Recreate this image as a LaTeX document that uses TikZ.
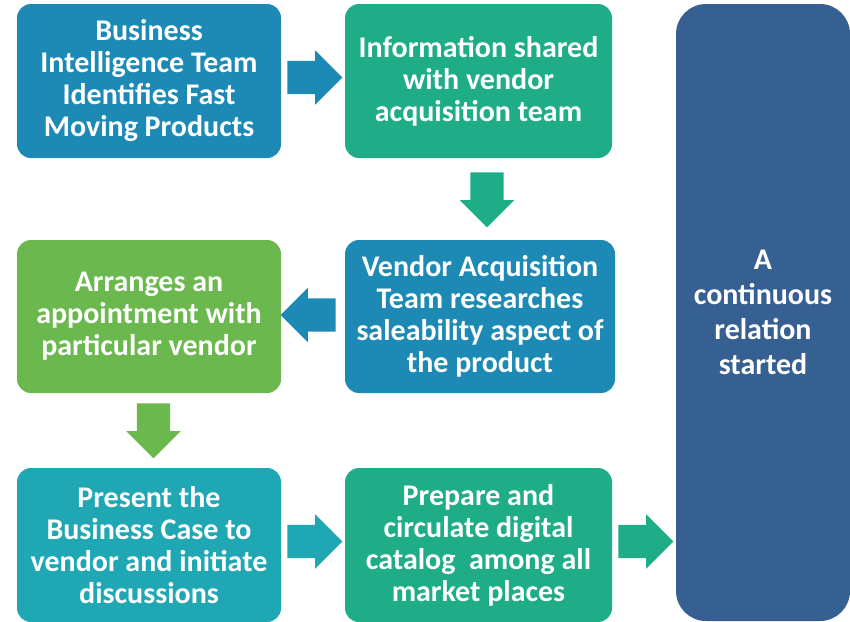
\documentclass[tikz,border=0pt]{standalone}
\usepackage{fontspec}
\setmainfont{Carlito}
\usetikzlibrary{shapes.arrows,calc}
\definecolor{cblue}{HTML}{1C8AB4}
\definecolor{cgreen}{HTML}{1FAD88}
\definecolor{clgreen}{HTML}{6BB84F}
\definecolor{cteal}{HTML}{1FA8B4}
\definecolor{cnavy}{HTML}{376092}
\begin{document}
\begin{tikzpicture}[x=1pt,y=-1pt,
  box/.style={rounded corners=14pt, minimum width=264pt, minimum height=154pt,
    text=white, font=\bfseries\fontsize{30}{32}\selectfont, align=center, inner sep=0pt},
  blk/.style={single arrow, single arrow head extend=10.5pt, minimum height=55pt,
    minimum width=54pt, inner sep=16.5pt, draw=none, anchor=tail}]
\useasboundingbox (0,0) rectangle (850,621);
\node[box, fill=cblue] (b1) at (149,81) {Business\\Intelligence Team\\Identifies Fast\\Moving Products};
\node[box, fill=cgreen, minimum width=267pt] (b2) at (478.5,81) {Information shared\\with vendor\\acquisition team};
\node[box, fill=cblue, minimum width=270pt, minimum height=153pt] (b3) at (480,316.5) {Vendor Acquisition\\Team researches\\saleability aspect of\\the product};
\node[box, fill=clgreen, minimum height=153pt] (b4) at (149,316.5) {Arranges an\\appointment with\\particular vendor};
\node[box, fill=cteal] (b5) at (149,545) {Present the\\Business Case to\\vendor and initiate\\discussions};
\node[box, fill=cgreen, minimum width=267pt] (b6) at (478.5,545) {Prepare and\\circulate digital\\catalog \ among all\\market places};
\node[box, fill=cnavy, rounded corners=30pt, minimum width=174pt, minimum height=617pt,
  font=\bfseries\fontsize{30}{35}\selectfont] (b7) at (763,312.5) {A\\continuous\\relation\\started};
\node[blk, fill=cblue] (a1) at ($(b1.east)+(6,-3.5)$) {};
\node[blk, fill=cgreen, shape border rotate=270] (a2) at ($(b2.south)+(8.5,14)$) {};
\node[blk, fill=cblue, shape border rotate=180] (a3) at ($(b3.west)+(-9,-1.5)$) {};
\node[blk, fill=clgreen, shape border rotate=270] (a4) at ($(b4.south)+(4.5,10)$) {};
\node[blk, fill=cteal] (a5) at ($(b5.east)+(6,-3.5)$) {};
\node[blk, fill=cgreen] (a6) at ($(b6.east)+(6,-3.5)$) {};
\end{tikzpicture}
\end{document}
